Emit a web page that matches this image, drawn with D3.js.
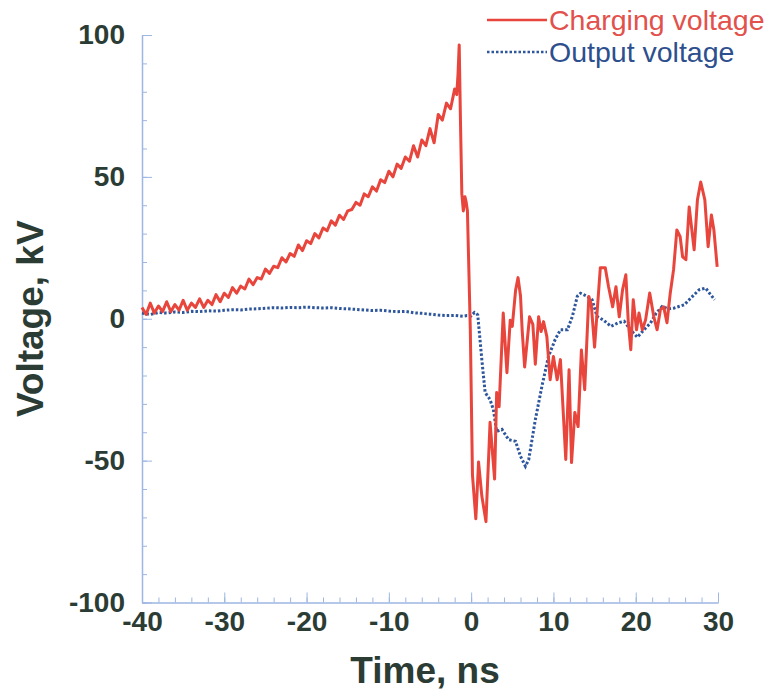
<!DOCTYPE html>
<html>
<head>
<meta charset="utf-8">
<script src="https://cdn.jsdelivr.net/npm/d3@7"></script>
<style>
  body { margin: 0; background: #fff; }
  text { font-family: "Liberation Sans", Arial, sans-serif; }
</style>
</head>
<body>
<svg id="chart"></svg>
<script>
// charging voltage [time ns, kV]
const chargingVoltage = [
  [-40, 4], [-39.5, 1.5], [-39, 5.5], [-38.5, 2], [-38, 4.5], [-37.5, 2.5], [-37, 6], [-36.5, 2.5],
  [-36, 5], [-35.5, 3], [-35, 6.5], [-34.5, 3], [-34, 5.5], [-33.5, 4], [-33, 7], [-32.5, 4],
  [-32, 6.5], [-31.5, 5], [-31, 8.5], [-30.5, 6], [-30, 9], [-29.5, 7.5], [-29, 11], [-28.5, 9],
  [-28, 11.5], [-27.5, 10.5], [-27, 14], [-26.5, 12], [-26, 14.5], [-25.5, 14], [-25, 17.5], [-24.5, 16],
  [-24, 18.5], [-23.5, 18], [-23, 21.5], [-22.5, 20], [-22, 23], [-21.5, 22], [-21, 26], [-20.5, 24],
  [-20, 27.5], [-19.5, 26.5], [-19, 30], [-18.5, 28.5], [-18, 32], [-17.5, 31], [-17, 34.5], [-16.5, 33],
  [-16, 36.5], [-15.5, 35], [-15, 38], [-14.5, 38.5], [-14, 41], [-13.5, 40], [-13, 44], [-12.5, 43],
  [-12, 46.5], [-11.5, 45], [-11, 49], [-10.5, 48], [-10, 52], [-9.5, 50], [-9, 54.5], [-8.5, 53],
  [-8, 57], [-7.5, 55.5], [-7, 61], [-6.5, 57], [-6, 63], [-5.5, 61], [-5, 67], [-4.5, 62],
  [-4, 72], [-3.5, 70], [-3, 76], [-2.5, 74], [-2, 81], [-1.75, 79], [-1.6, 86], [-1.45, 96.5],
  [-1.3, 70], [-1.13, 44], [-0.95, 38], [-0.75, 43], [-0.6, 41], [-0.45, 38], [-0.1, -4], [0.16, -55],
  [0.57, -70.5], [0.9, -50.5], [1.3, -62.5], [1.8, -71.5], [2.3, -36.5], [2.85, -56.5], [3.1, -26], [3.4, -31],
  [3.9, 2], [4.35, -19], [4.75, -0.5], [5.0, -2.7], [5.4, 10], [5.7, 14.5], [6.0, 8], [6.2, -4],
  [6.5, -17], [7.1, 0.7], [7.5, -2], [7.8, -16], [8.2, 0.7], [8.5, -4.5], [8.8, -1], [9.2, -6.3],
  [9.6, -21.5], [10.0, -13.3], [10.45, -21.5], [10.85, -14.4], [11.5, -49.6], [11.9, -18], [12.2, -50.7], [12.6, -33],
  [13.0, -38], [13.4, -11], [13.8, -25], [14.3, 7.8], [14.6, 5], [15.0, -10], [15.7, 18], [16.3, 18],
  [16.7, 11.3], [17.2, 4.2], [17.6, 11.3], [18.0, 0.7], [18.4, 10.2], [18.8, 15.5], [19.1, -1.4], [19.4, -10.9],
  [19.7, 6.7], [20.1, -3.9], [20.4, 2], [20.8, -3.9], [21.2, -0.4], [21.7, 9.1], [22.2, 0.7], [22.6, -3.9],
  [23.0, 3.2], [23.4, 4.2], [23.8, -1.4], [24.2, 9.1], [24.6, 17.3], [25.0, 31.3], [25.4, 28.9], [25.7, 21.8],
  [26.1, 20.8], [26.5, 39.4], [27.1, 24.3], [27.5, 41.9], [27.9, 48.2], [28.4, 41.9], [28.8, 25.4], [29.2, 36.6],
  [29.5, 31.3], [29.9, 18.3]
];

// output voltage [time ns, kV]
const outputVoltage = [
  [-40, 2], [-39, 1.5], [-38, 2.2], [-37, 2], [-36, 2.4], [-35, 2.2], [-34, 2.6], [-33, 2.5],
  [-32, 2.8], [-31, 2.7], [-30, 3], [-29, 3.2], [-28, 3.1], [-27, 3.4], [-26, 3.5], [-25, 3.7],
  [-24, 3.9], [-23, 3.8], [-22, 4], [-21, 3.9], [-20, 4.1], [-19, 3.9], [-18, 3.8], [-17, 3.9],
  [-16, 3.6], [-15, 3.5], [-14, 3.3], [-13, 3.1], [-12, 2.9], [-11, 3], [-10, 2.7], [-9, 2.5],
  [-8, 2.6], [-7, 2.1], [-6, 1.9], [-5, 1.6], [-4, 1.3], [-3, 1.1], [-2, 1.2], [-1, 0.9],
  [-0.5, 1.1], [0, 1], [0.4, 2.2], [0.8, 1.4], [1.3, -14.4], [1.7, -26], [2.3, -28.5], [2.7, -32],
  [3.1, -39.7], [3.75, -39], [4.55, -42.6], [5.4, -43.2], [6.0, -48.5], [6.6, -52], [7.0, -49.6], [7.8, -35.6],
  [8.6, -23.8], [9.4, -13.3], [10.2, -7.4], [10.85, -3.9], [11.7, -3.9], [12.3, 0.8], [12.9, 7.9], [13.3, 9],
  [14.1, 7.9], [14.7, 6.7], [15.3, 0.8], [16.1, -0.5], [17.0, -2.7], [17.8, -1.5], [18.6, -0.9], [19.4, -4],
  [20.2, -6.5], [21.0, -3.9], [21.8, -1.5], [22.5, 2], [23.2, 4.3], [24.0, 3.5], [24.7, 3.8], [25.9, 4.9],
  [26.9, 7.9], [27.7, 10.2], [28.5, 10.8], [29.1, 8.5], [29.6, 6.7]
];

const xTicks = [-40, -30, -20, -10, 0, 10, 20, 30];
const yTicks = [-100, -50, 0, 50, 100];
const xMinor = d3.range(-40, 31, 2);
const yMinor = d3.range(-100, 101, 10);
const seriesNames = ["Charging voltage", "Output voltage"];

const W = 771, H = 695;
const margin = { top: 35, right: 53, bottom: 92.5, left: 142 };
const width = W - margin.left - margin.right;
const height = H - margin.top - margin.bottom;

const axisColor = "#9db6e2";
const textColor = "#2b3c35";
const red = "#e8453c";
const blue = "#2d569c";

const svg = d3.select("#chart").attr("width", W).attr("height", H);
svg.append("rect").attr("width", W).attr("height", H).attr("fill", "#fff");

const g = svg.append("g").attr("transform", `translate(${margin.left},${margin.top})`);

const xScale = d3.scaleLinear().domain([-40, 30]).range([0, width]);
const yScale = d3.scaleLinear().domain([-100, 100]).range([height, 0]);

// plain hyphen minus like the original figure
const fmt = (d) => String(d);

// minor ticks first, no labels
g.append("g")
  .attr("transform", `translate(0,${height})`)
  .call(d3.axisBottom(xScale).tickValues(xMinor).tickSize(-5).tickSizeOuter(0).tickFormat(""))
  .call((s) => s.select(".domain").remove())
  .call((s) => s.selectAll("line").attr("stroke", axisColor));

g.append("g")
  .call(d3.axisLeft(yScale).tickValues(yMinor).tickSize(-5).tickSizeOuter(0).tickFormat(""))
  .call((s) => s.select(".domain").remove())
  .call((s) => s.selectAll("line").attr("stroke", axisColor));

// X Axis
const xAxis = g.append("g")
  .attr("transform", `translate(0,${height})`)
  .call(d3.axisBottom(xScale).tickValues(xTicks).tickFormat(fmt).tickSize(-10).tickSizeOuter(0).tickPadding(9));

// Y Axis
const yAxis = g.append("g")
  .call(d3.axisLeft(yScale).tickValues(yTicks).tickFormat(fmt).tickSize(-10).tickSizeOuter(0).tickPadding(17));

[xAxis, yAxis].forEach((a) => {
  a.select(".domain").attr("stroke", axisColor).attr("stroke-width", 1.5);
  a.selectAll("line").attr("stroke", axisColor);
  a.selectAll("text")
    .attr("fill", textColor)
    .attr("font-size", 28)
    .attr("font-weight", "bold")
    .attr("font-family", '"Liberation Sans", Arial, sans-serif');
});

// axis titles
svg.append("text")
  .attr("x", 425)
  .attr("y", 683)
  .attr("text-anchor", "middle")
  .attr("fill", textColor)
  .attr("font-size", 37)
  .attr("font-weight", "bold")
  .text("Time, ns");

svg.append("text")
  .attr("transform", `translate(43,${margin.top + yScale(0)}) rotate(-90)`)
  .attr("text-anchor", "middle")
  .attr("fill", textColor)
  .attr("font-size", 37)
  .attr("font-weight", "bold")
  .text("Voltage, kV");

const lineGenerator = d3.line()
  .x((d) => xScale(d[0]))
  .y((d) => yScale(d[1]));

// output voltage, dotted
g.append("path")
  .attr("d", lineGenerator(outputVoltage))
  .attr("fill", "none")
  .attr("stroke", blue)
  .attr("stroke-width", 3)
  .attr("stroke-dasharray", "2.5,2");

// charging voltage
g.append("path")
  .attr("d", lineGenerator(chargingVoltage))
  .attr("fill", "none")
  .attr("stroke", red)
  .attr("stroke-width", 3)
  .attr("stroke-linejoin", "round");

// legend
const legend = svg.append("g").attr("transform", "translate(487,20)");
seriesNames.forEach((name, i) => {
  const row = legend.append("g").attr("transform", `translate(0,${i * 32})`);
  row.append("line")
    .attr("x1", 0).attr("x2", 60)
    .attr("stroke", i === 0 ? red : blue)
    .attr("stroke-width", 2.5)
    .attr("stroke-dasharray", i === 0 ? null : "2.5,2");
  row.append("text")
    .attr("x", 62)
    .attr("y", 10)
    .attr("fill", i === 0 ? "#e2514b" : "#2d4f8e")
    .attr("font-size", 28.5)
    .text(name);
});
</script>
</body>
</html>
